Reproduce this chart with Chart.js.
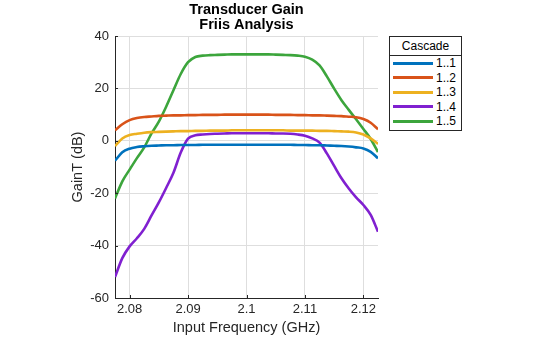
<!DOCTYPE html>
<html>
<head>
<meta charset="utf-8">
<script src="https://cdn.jsdelivr.net/npm/chart.js@4.4.0/dist/chart.umd.min.js"></script>
<style>
  html, body { margin: 0; padding: 0; background: #fff; }
  #wrap { position: relative; width: 560px; height: 337px; }
  #legend {
    position: absolute; left: 389px; top: 36px; width: 71px;
    border: 1px solid #262626; background: #fff;
    font-family: "Liberation Sans", Arial, sans-serif; color: #000;
  }
  #legend .head { height: 18px; line-height: 18px; font-size: 12px; text-align: center; border-bottom: 1px solid #262626; }
  #legend .body { padding: 0 0 1px 0; }
  #legend .row { height: 14.5px; display: flex; align-items: center; font-size: 12px; }
  #legend .swatch { width: 40px; height: 3px; margin: 0 3px 0 3px; }
</style>
</head>
<body>
<div id="wrap">
  <canvas id="gainChart" width="560" height="337"></canvas>
  <div id="legend"></div>
</div>
<script>
// frekuensi input (GHz)
const freq = [2.0775, 2.07875, 2.08, 2.08125, 2.0825, 2.08375, 2.085, 2.08625, 2.0875, 2.08875,
              2.09, 2.09125, 2.0925, 2.09375, 2.095, 2.09625, 2.0975, 2.09875, 2.1,
              2.10125, 2.1025, 2.10375, 2.105, 2.10625, 2.1075, 2.10875, 2.11,
              2.11125, 2.1125, 2.11375, 2.115, 2.11625, 2.1175, 2.11875, 2.12, 2.12125, 2.1225];

// GainT (dB) per cascade
const gain11 = [-7.6, -4.4, -3.0, -2.4, -2.1, -1.9, -1.8, -1.7, -1.7, -1.6,
                -1.6, -1.6, -1.5, -1.5, -1.5, -1.5, -1.5, -1.5, -1.5,
                -1.5, -1.5, -1.5, -1.5, -1.5, -1.5, -1.6, -1.6,
                -1.7, -1.7, -1.8, -1.9, -2.0, -2.2, -2.5, -2.9, -4.2, -6.7];
const gain12 = [4.0, 6.3, 7.9, 8.7, 9.1, 9.3, 9.5, 9.6, 9.7, 9.7,
                9.8, 9.8, 9.9, 9.9, 9.9, 10, 10, 10, 10,
                10, 10, 10, 9.9, 9.9, 9.9, 9.8, 9.8,
                9.7, 9.7, 9.6, 9.5, 9.4, 9.2, 9.0, 8.3, 6.9, 4.4];
const gain13 = [-2.0, 0.9, 2.2, 2.7, 3.1, 3.3, 3.4, 3.5, 3.6, 3.7,
                3.7, 3.8, 3.8, 3.9, 3.9, 3.9, 4.0, 4.0, 4.0,
                4.0, 4.0, 4.0, 4.0, 4.0, 3.9, 3.9, 3.9,
                3.9, 3.8, 3.8, 3.7, 3.6, 3.5, 3.2, 2.4, 0.9, -1.2];
const gain14 = [-52, -44.8, -40.3, -37.2, -33.6, -28.5, -23.5, -18.0, -12.2, -4.5,
                0.8, 2.1, 2.4, 2.6, 2.7, 2.8, 2.9, 2.9, 2.9,
                2.9, 2.9, 2.9, 2.8, 2.8, 2.7, 2.4, 1.9,
                0.9, -0.7, -4.8, -9.6, -14.3, -18.2, -21.6, -24.5, -28.3, -34.7];
const gain15 = [-22, -15.5, -11, -6.6, -2.5, 2.8, 7.3, 13, 19.3, 25.5,
                30.0, 32.0, 32.5, 32.7, 32.8, 32.9, 33, 33, 33,
                33, 33, 33, 32.9, 32.8, 32.7, 32.5, 32.1,
                31.0, 28.8, 24.6, 19.9, 15.5, 11.8, 8.2, 4.5, 0.7, -4.3];

const seriesNames = ["1..1", "1..2", "1..3", "1..4", "1..5"];
const seriesColors = ["#0072BD", "#D95319", "#EDB120", "#8020D0", "#3CA53C"];

const xTicks = [2.08, 2.09, 2.1, 2.11, 2.12];
const xTickLabels = ["2.08", "2.09", "2.1", "2.11", "2.12"];
const yTicks = [-60, -40, -20, 0, 20, 40];
const yTickLabels = ["-60", "-40", "-20", "0", "20", "40"];

const FONT = "'Liberation Sans', Arial, sans-serif";
const AXIS = "#262626";

const allGain = [gain11, gain12, gain13, gain14, gain15];
const datasets = allGain.map((vals, i) => ({
    label: seriesNames[i],
    data: freq.map((f, k) => ({ x: f, y: vals[k] })),
    borderColor: seriesColors[i],
    backgroundColor: seriesColors[i],
    borderWidth: 2.6,
    pointRadius: 0,
    cubicInterpolationMode: "monotone",
    fill: false,
}));

// judul dua baris di tengah area plot
const titlePlugin = {
    id: "twoLineTitle",
    afterDraw(chart) {
        const { ctx, chartArea } = chart;
        const cx = (chartArea.left + chartArea.right) / 2;
        ctx.save();
        ctx.fillStyle = "#000";
        ctx.font = "bold 14.5px " + FONT;
        ctx.textAlign = "center";
        ctx.textBaseline = "middle";
        ctx.fillText("Transducer Gain", cx, 10);
        ctx.fillText("Friis Analysis", cx, 25);
        ctx.restore();
    }
};

// tick kecil ke dalam seperti MATLAB
const innerTicks = {
    id: "innerTicks",
    afterDraw(chart) {
        const { ctx, chartArea, scales } = chart;
        ctx.save();
        ctx.strokeStyle = AXIS;
        ctx.lineWidth = 1;
        ctx.beginPath();
        xTicks.forEach(v => {
            const px = Math.round(scales.x.getPixelForValue(v)) + 0.5;
            ctx.moveTo(px, chartArea.bottom);
            ctx.lineTo(px, chartArea.bottom - 3);
        });
        yTicks.forEach(v => {
            const py = Math.round(scales.y.getPixelForValue(v)) + 0.5;
            ctx.moveTo(chartArea.left, py);
            ctx.lineTo(chartArea.left + 3, py);
        });
        ctx.stroke();
        ctx.restore();
    }
};

const chart = new Chart(document.getElementById("gainChart"), {
    type: "line",
    data: { datasets },
    options: {
        responsive: false,
        animation: false,
        layout: { padding: { left: 0, right: 182, top: 36, bottom: 0 } },
        plugins: {
            legend: { display: false },
            title: { display: false },
            tooltip: { enabled: false },
        },
        scales: {
            x: {
                type: "linear",
                min: 2.0775,
                max: 2.1225,
                afterBuildTicks: s => { s.ticks = xTicks.map(v => ({ value: v })); },
                afterFit: s => { s.height = 39; },
                ticks: {
                    color: AXIS,
                    font: { family: FONT, size: 13 },
                    padding: 4,
                    maxRotation: 0,
                    autoSkip: false,
                    callback: (v, i) => xTickLabels[i],
                },
                grid: { color: "#dedede", drawTicks: false },
                border: { display: true, color: AXIS, width: 1 },
                title: {
                    display: true,
                    text: "Input Frequency (GHz)",
                    color: AXIS,
                    font: { family: FONT, size: 14.5 },
                    padding: { top: 0, bottom: 0 },
                },
            },
            y: {
                min: -60,
                max: 40,
                afterBuildTicks: s => { s.ticks = yTicks.map(v => ({ value: v })); },
                afterFit: s => { s.width = 115; },
                ticks: {
                    color: AXIS,
                    font: { family: FONT, size: 13 },
                    padding: 6,
                    autoSkip: false,
                    callback: (v, i) => yTickLabels[i],
                },
                grid: { color: "#dedede", drawTicks: false },
                border: { display: true, color: AXIS, width: 1 },
                title: {
                    display: true,
                    text: "GainT (dB)",
                    color: AXIS,
                    font: { family: FONT, size: 14.5 },
                    padding: { top: 69, bottom: 0 },
                },
            },
        },
    },
    plugins: [titlePlugin, innerTicks],
});

// legenda HTML dari dataset
const legendEl = document.getElementById("legend");
let html = '<div class="head">Cascade</div><div class="body">';
chart.data.datasets.forEach(ds => {
    html += '<div class="row"><span class="swatch" style="background:' + ds.borderColor + '"></span>' + ds.label + '</div>';
});
html += '</div>';
legendEl.innerHTML = html;
</script>
</body>
</html>
